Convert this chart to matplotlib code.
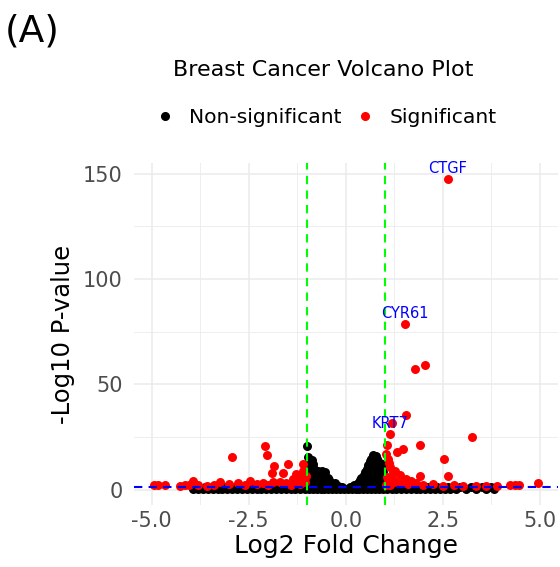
import matplotlib
matplotlib.use("Agg")
import matplotlib.pyplot as plt
from matplotlib.lines import Line2D

# significant genes (red)
sig_x = [2.63, 1.53, 1.77, 2.05, 1.54, 1.19, 1.15, 3.26,
         1.07, 1.92, 1.47, 1.32, 1.09, 2.54, 1.13, 1.22, 1.90, 2.63, 1.26, 1.39,
         1.56, 1.69, 1.82, 1.09, 1.20, 1.30, 1.45, 1.60, 1.04, 1.15, 1.04, 1.10, 1.05,
         2.25, 2.80, 3.02, 3.36, 2.00, 2.50, 3.60, 3.90, 4.22, 4.35, 4.47, 4.94,
         -2.08, -2.04, -2.94, -1.84, -1.91, -1.48, -1.63, -1.11, -1.10, -1.27, -1.36,
         -1.05, -1.15, -1.02,
         -4.95, -4.83, -4.65, -4.27, -4.14, -3.93, -3.58, -3.24, -3.00, -2.77, -2.47,
         -2.30, -2.13, -1.87, -1.70, -1.53, -1.27, -1.18, -4.05, -3.80, -3.40, -2.60,
         -2.00, -1.40]
sig_y = [147.5, 78.6, 57.1, 59.0, 35.4, 31.8, 26.5, 25.1,
         21.0, 21.0, 19.4, 17.8, 14.6, 14.3, 10.6, 8.2, 6.5, 6.5, 9.0, 6.7,
         5.1, 4.3, 3.2, 4.3, 5.5, 3.5, 3.0, 2.5, 2.0, 2.2, 17.0, 12.5, 6.0,
         2.7, 2.2, 1.9, 1.9, 2.0, 1.8, 1.8, 1.7, 2.2, 2.2, 2.4, 3.2,
         20.5, 16.2, 15.4, 11.1, 7.8, 12.2, 8.1, 12.2, 9.0, 7.5, 5.1,
         3.5, 5.5, 6.5,
         2.4, 2.4, 2.4, 1.6, 2.2, 4.3, 1.9, 3.5, 2.7, 3.2, 4.0,
         2.7, 3.2, 3.8, 3.5, 3.2, 4.3, 2.7, 2.0, 2.0, 2.2, 2.0,
         2.2, 2.0]

# non-significant genes (black)
ns_x = [-1.00, -0.97, -0.86, 0.70, 0.78,
        # mountain
        -0.95, -0.85, -0.75, -0.65, -0.55, -0.45, -0.35, -0.25, -0.15, -0.05,
        0.05, 0.15, 0.25, 0.35, 0.45, 0.55, 0.65, 0.75, 0.85, 0.95,
        -0.90, -0.80, -0.70, -0.60, -0.50, -0.40, -0.30, -0.20, 0.20, 0.30,
        0.40, 0.50, 0.60, 0.70, 0.80, 0.90,
        -0.97, -0.88, -0.78, -0.68, -0.58, -0.48, -0.38, -0.28, -0.20, -0.10,
        0.10, 0.20, 0.32, 0.42, 0.52, 0.62, 0.72, 0.82, 0.92,
        -0.93, -0.83, -0.72, -0.62, -0.52, -0.42, 0.36, 0.46, 0.55, 0.65, 0.75, 0.85, 0.95,
        -0.96, -0.86, -0.76, -0.66, -0.56, -0.46, 0.40, 0.48, 0.58, 0.68, 0.78, 0.88, 0.96,
        -0.92, -0.80, -0.70, -0.60, 0.46, 0.54, 0.62, 0.72, 0.82, 0.92,
        -0.95, -0.85, -0.72, -0.62, -0.54, 0.50, 0.58, 0.66, 0.76, 0.86, 0.95,
        -0.97, -0.88, -0.84, 0.55, 0.62, 0.70, 0.80, 0.88, 0.97,
        -0.97, -0.84, 0.58, 0.64, 0.74, 0.82, 0.97,
        -0.90, 0.62, 0.68, 0.76, 0.84,
        0.66, 0.72, 0.80,
        # baseline left
        -3.93, -3.80, -3.68, -3.55, -3.42, -3.30, -3.18, -3.05, -2.92, -2.80, -2.68, -2.55,
        -2.42, -2.30, -2.18, -2.05, -1.92, -1.80, -1.68, -1.55, -1.42, -1.30, -1.18, -1.05,
        -3.86, -3.62, -3.36, -3.12, -2.86, -2.62, -2.36, -2.12, -1.86, -1.62, -1.36, -1.12,
        # baseline right
        1.05, 1.18, 1.30, 1.42, 1.55, 1.68, 1.80, 1.92, 2.05, 2.18, 2.30, 2.42,
        2.55, 2.68, 2.85, 3.10, 3.36, 3.62, 3.83,
        1.12, 1.36, 1.62, 1.86, 2.12, 2.36, 2.62, 2.95, 3.23, 3.50, 3.75]
ns_y = [20.5, 15.5, 14.0, 16.5, 16.0,
        0.5, 0.5, 0.5, 0.5, 0.5, 0.5, 0.5, 0.5, 0.5, 0.3,
        0.3, 0.5, 0.5, 0.5, 0.5, 0.5, 0.5, 0.5, 0.5, 0.5,
        1.7, 1.7, 1.7, 1.7, 1.7, 1.7, 1.7, 1.2, 1.2, 1.7,
        1.7, 1.7, 1.7, 1.7, 1.7, 1.7,
        3.0, 3.0, 3.0, 3.0, 3.0, 3.0, 3.0, 3.0, 1.8, 1.0,
        1.2, 2.0, 3.0, 3.0, 3.0, 3.0, 3.0, 3.0, 3.0,
        4.5, 4.5, 4.5, 4.5, 4.5, 4.5, 4.5, 4.5, 4.5, 4.5, 4.5, 4.5, 4.5,
        6.0, 6.0, 6.0, 6.0, 6.0, 5.5, 5.5, 6.0, 6.0, 6.0, 6.0, 6.0, 6.0,
        7.5, 7.5, 7.5, 7.5, 7.0, 7.5, 7.5, 7.5, 7.5, 7.5,
        9.0, 9.0, 9.0, 9.0, 8.5, 8.5, 9.0, 9.0, 9.0, 9.0, 8.5,
        10.5, 10.5, 10.5, 10.0, 10.5, 10.5, 10.5, 10.5, 10.5,
        12.0, 12.0, 11.5, 12.0, 12.0, 12.0, 12.0,
        13.5, 13.5, 13.5, 13.5, 13.5,
        14.5, 15.0, 14.5,
        0.3, 0.3, 0.3, 0.3, 0.3, 0.3, 0.3, 0.3, 0.3, 0.3, 0.3, 0.3,
        0.3, 0.3, 0.3, 0.3, 0.3, 0.3, 0.3, 0.3, 0.3, 0.3, 0.3, 0.3,
        1.0, 1.0, 1.0, 1.0, 1.0, 1.0, 1.0, 1.0, 1.0, 1.0, 1.0, 1.0,
        0.3, 0.3, 0.3, 0.3, 0.3, 0.3, 0.3, 0.3, 0.3, 0.3, 0.3, 0.3,
        0.3, 0.3, 0.5, 0.5, 0.5, 0.5, 0.5,
        1.0, 1.0, 1.0, 1.0, 1.0, 1.0, 1.0, 1.0, 1.0, 1.0, 1.0]

genes = ["CTGF", "CYR61", "KRT7"]
gene_x = [2.63, 1.53, 1.15]
gene_y = [147.5, 78.6, 26.5]

fig = plt.figure(figsize=(5.6, 5.67), dpi=100)
ax = fig.add_axes([0.239, 0.109, 0.757, 0.6035])

ax.scatter(ns_x, ns_y, s=42, color="black", linewidths=0, zorder=2)
ax.scatter(sig_x, sig_y, s=42, color="red", linewidths=0, zorder=3)

ax.axvline(-1, color="#00FF00", lw=1.5, ls=(0, (4, 3)), zorder=4)
ax.axvline(1, color="#00FF00", lw=1.5, ls=(0, (4, 3)), zorder=4)
ax.axhline(1.3, color="blue", lw=1.5, ls=(0, (4, 3)), zorder=4)

for g, x, y in zip(genes, gene_x, gene_y):
    ax.annotate(g, (x, y), xytext=(0, 7.5), textcoords="offset points",
                ha="center", va="center", color="blue", fontsize=10.5, zorder=5)

ax.set_xlim(-5.46, 5.46)
ax.set_ylim(-7.4, 155)
ax.set_xticks([-5, -2.5, 0, 2.5, 5])
ax.set_xticklabels(["-5.0", "-2.5", "0.0", "2.5", "5.0"])
ax.set_yticks([0, 50, 100, 150])
ax.set_xticks([-3.75, -1.25, 1.25, 3.75], minor=True)
ax.set_yticks([25, 75, 125], minor=True)
ax.grid(which="major", color="#EBEBEB", lw=1.1)
ax.grid(which="minor", color="#EBEBEB", lw=0.6)
ax.set_axisbelow(True)
for sp in ax.spines.values():
    sp.set_visible(False)
ax.tick_params(which="both", length=0, labelsize=15, labelcolor="#4D4D4D")
ax.tick_params(axis="y", pad=8)
ax.tick_params(axis="x", pad=4)

ax.set_xlabel("Log2 Fold Change", fontsize=18, labelpad=2)
ax.set_ylabel("-Log10 P-value", fontsize=17.5, labelpad=6)

fig.text(0.577, 0.877, "Breast Cancer Volcano Plot", ha="center", va="center", fontsize=16)
fig.text(0.009, 0.944, "(A)", ha="left", va="center", fontsize=27)

handles = [Line2D([], [], marker="o", ls="", color="black", markersize=5.5),
           Line2D([], [], marker="o", ls="", color="red", markersize=5.5)]
fig.legend(handles, ["Non-significant", "Significant"], loc="center",
           bbox_to_anchor=(0.5795, 0.792), ncol=2, frameon=False, fontsize=14.6,
           handletextpad=0.6, columnspacing=0.55, handlelength=1.2)

fig.savefig("out.png", dpi=100)
